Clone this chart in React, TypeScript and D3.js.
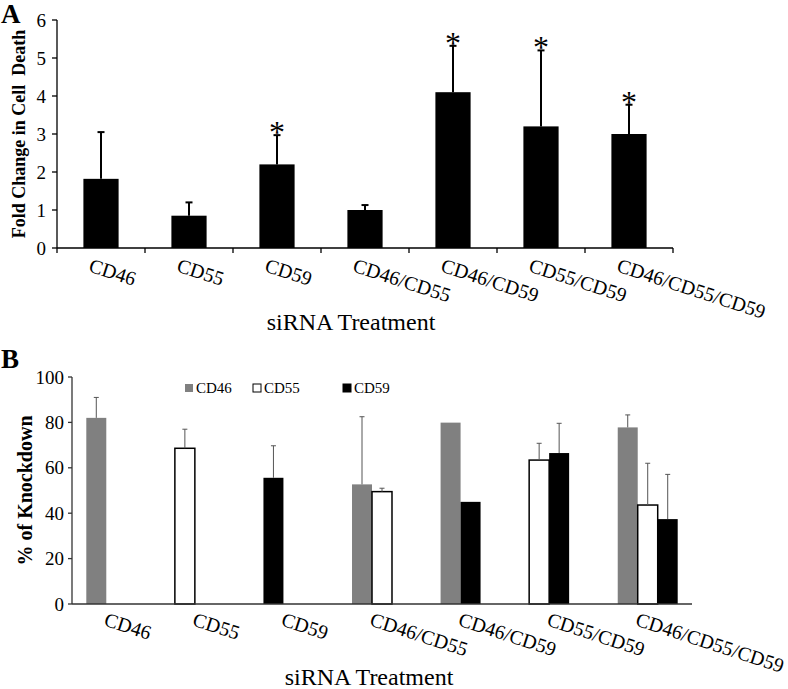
import React from 'react';
import * as d3 from 'd3';

const categories = ['CD46', 'CD55', 'CD59', 'CD46/CD55', 'CD46/CD59', 'CD55/CD59', 'CD46/CD55/CD59'];

// panel A: fold change in cell death (mean, upper error)
const cellDeath = [1.82, 0.85, 2.2, 1.0, 4.1, 3.2, 3.0];
const cellDeathErr = [1.23, 0.35, 0.77, 0.13, 1.22, 2.0, 0.77];
const significant = [false, false, true, false, true, true, true];
const ticksA = [0, 1, 2, 3, 4, 5, 6];

// panel B: % knockdown per marker (null = not targeted)
const knockCD46 = [82, null, null, 52.7, 79.9, null, 77.8];
const errCD46 = [9, null, null, 29.8, 0, null, 5.5];
const knockCD55 = [null, 68.6, null, 49.5, null, 63.4, 43.6];
const errCD55 = [null, 8.4, null, 1.5, null, 7.4, 18.4];
const knockCD59 = [null, null, 55.6, null, 45, 66.5, 37.4];
const errCD59 = [null, null, 14.1, null, 0, 13.1, 19.7];
const ticksB = [0, 20, 40, 60, 80, 100];

const markers = ['CD46', 'CD55', 'CD59'];
const markerFill: Record<string, string> = { CD46: '#808080', CD55: '#ffffff', CD59: '#000000' };

const FONT = "'Liberation Serif', 'Times New Roman', serif";
const W = 788;
const H = 689;

const App: React.FC = () => {
  // ---- panel A ----
  const yA = d3.scaleLinear().domain([0, 6]).range([248, 20]);
  const xA = d3.scaleBand<string>().domain(categories).range([57, 673]).paddingInner(0.6).paddingOuter(0.3);
  const stepA = xA.step();

  // ---- panel B ----
  const yB = d3.scaleLinear().domain([0, 100]).range([604, 377]);
  const xB = d3.scaleBand<string>().domain(categories).range([72, 692]);
  const slot = d3.scaleBand<number>().domain([0, 1, 2]).range([14.3, xB.bandwidth() - 14.3]);

  const series = [
    { name: 'CD46', vals: knockCD46, errs: errCD46 },
    { name: 'CD55', vals: knockCD55, errs: errCD55 },
    { name: 'CD59', vals: knockCD59, errs: errCD59 },
  ];

  // bars are packed left within each category
  const barsB: { cat: string; name: string; v: number; e: number; i: number }[] = [];
  categories.forEach((c, ci) => {
    let i = 0;
    series.forEach(s => {
      const v = s.vals[ci];
      if (v != null) {
        barsB.push({ cat: c, name: s.name, v, e: s.errs[ci] ?? 0, i });
        i++;
      }
    });
  });

  const xLabel = (cx: number, y: number, text: string, key: string) => (
    <text
      key={key}
      transform={`translate(${cx - 8},${y}) rotate(18)`}
      style={{ fontFamily: FONT }}
      fontSize={20}
      dy="0.85em"
      fill="#000"
    >
      {text}
    </text>
  );

  return (
    <svg width={W} height={H} style={{ position: 'absolute', left: 0, top: 0, background: '#fff', fontFamily: FONT }}>
      <rect width={W} height={H} fill="#fff" />

      {/* ===== Panel A ===== */}
      <text x={1} y={23} fontWeight="bold" fontSize={27}>A</text>
      <text
        transform={`translate(25,${(yA(0) + yA(6)) / 2}) rotate(-90)`}
        textAnchor="middle"
        fontWeight="bold"
        fontSize={18}
        style={{ whiteSpace: 'pre' }}
      >
        {'Fold Change in Cell  Death'}
      </text>

      {/* bars */}
      {categories.map((c, i) => (
        <rect key={c} x={xA(c)} y={yA(cellDeath[i])} width={xA.bandwidth()} height={yA(0) - yA(cellDeath[i])} fill="#000" />
      ))}
      {/* error bars */}
      {categories.map((c, i) => {
        const cx = (xA(c) ?? 0) + xA.bandwidth() / 2;
        const top = yA(cellDeath[i] + cellDeathErr[i]);
        return (
          <g key={'e' + c} stroke="#000" strokeWidth={2}>
            <line x1={cx} x2={cx} y1={yA(cellDeath[i])} y2={top} />
            <line x1={cx - 3.5} x2={cx + 3.5} y1={top} y2={top} />
          </g>
        );
      })}
      {/* significance */}
      {categories.map((c, i) =>
        significant[i] ? (
          <text
            key={'s' + c}
            x={(xA(c) ?? 0) + xA.bandwidth() / 2}
            y={yA(cellDeath[i] + cellDeathErr[i]) + 8}
            textAnchor="middle"
            fontSize={32}
          >
            *
          </text>
        ) : null
      )}

      {/* axes A */}
      <g stroke="#000" strokeWidth={1.3}>
        <line x1={57} x2={57} y1={yA(6)} y2={yA(0)} />
        <line x1={57} x2={673} y1={yA(0)} y2={yA(0)} />
        {ticksA.map(t => (
          <line key={t} x1={52} x2={57} y1={yA(t)} y2={yA(t)} />
        ))}
        {d3.range(categories.length + 1).map(k => (
          <line key={k} x1={57 + k * stepA} x2={57 + k * stepA} y1={yA(0)} y2={yA(0) + 5} />
        ))}
      </g>
      {ticksA.map(t => (
        <text key={t} x={46} y={yA(t)} dy="0.35em" textAnchor="end" fontSize={19}>
          {t}
        </text>
      ))}
      {categories.map(c => xLabel((xA(c) ?? 0) + xA.bandwidth() / 2, 255, c, 'la' + c))}
      <text x={351} y={330} textAnchor="middle" fontSize={24}>siRNA Treatment</text>

      {/* ===== Panel B ===== */}
      <text x={1} y={368} fontWeight="bold" fontSize={27}>B</text>
      <text
        transform={`translate(32,${(yB(0) + yB(100)) / 2}) rotate(-90)`}
        textAnchor="middle"
        fontWeight="bold"
        fontSize={20}
      >
        % of Knockdown
      </text>

      {/* legend */}
      {markers.map((m, i) => {
        const lx = [185, 253, 343][i];
        return (
          <g key={'lg' + m}>
            <rect x={lx} y={384} width={8} height={8} fill={markerFill[m]} stroke={m === 'CD46' ? 'none' : '#000'} strokeWidth={1} />
            <text x={lx + 11} y={388} dy="0.35em" fontSize={15}>
              {m}
            </text>
          </g>
        );
      })}

      {/* bars */}
      {barsB.map(b => {
        const x = (xB(b.cat) ?? 0) + (slot(b.i) ?? 0);
        return (
          <rect
            key={b.cat + b.name}
            x={x}
            y={yB(b.v)}
            width={slot.bandwidth()}
            height={yB(0) - yB(b.v)}
            fill={markerFill[b.name]}
            stroke={b.name === 'CD55' ? '#000' : 'none'}
            strokeWidth={1.5}
          />
        );
      })}
      {/* error bars */}
      {barsB.filter(b => b.e > 0).map(b => {
        const cx = (xB(b.cat) ?? 0) + (slot(b.i) ?? 0) + slot.bandwidth() / 2;
        const top = yB(b.v + b.e);
        return (
          <g key={'eb' + b.cat + b.name} stroke="#555" strokeWidth={1}>
            <line x1={cx} x2={cx} y1={yB(b.v)} y2={top} />
            <line x1={cx - 2.5} x2={cx + 2.5} y1={top} y2={top} />
          </g>
        );
      })}

      {/* axes B */}
      <g stroke="#333" strokeWidth={1.3}>
        <line x1={72} x2={72} y1={yB(100)} y2={yB(0)} />
        <line x1={72} x2={692} y1={yB(0)} y2={yB(0)} />
        {ticksB.map(t => (
          <line key={t} x1={68} x2={72} y1={yB(t)} y2={yB(t)} />
        ))}
      </g>
      {ticksB.map(t => (
        <text key={t} x={64} y={yB(t)} dy="0.35em" textAnchor="end" fontSize={19}>
          {t}
        </text>
      ))}
      {categories.map(c => xLabel((xB(c) ?? 0) + xB.bandwidth() / 2, 609, c, 'lb' + c))}
      <text x={369} y={685} textAnchor="middle" fontSize={24}>siRNA Treatment</text>
    </svg>
  );
};

export default App;
